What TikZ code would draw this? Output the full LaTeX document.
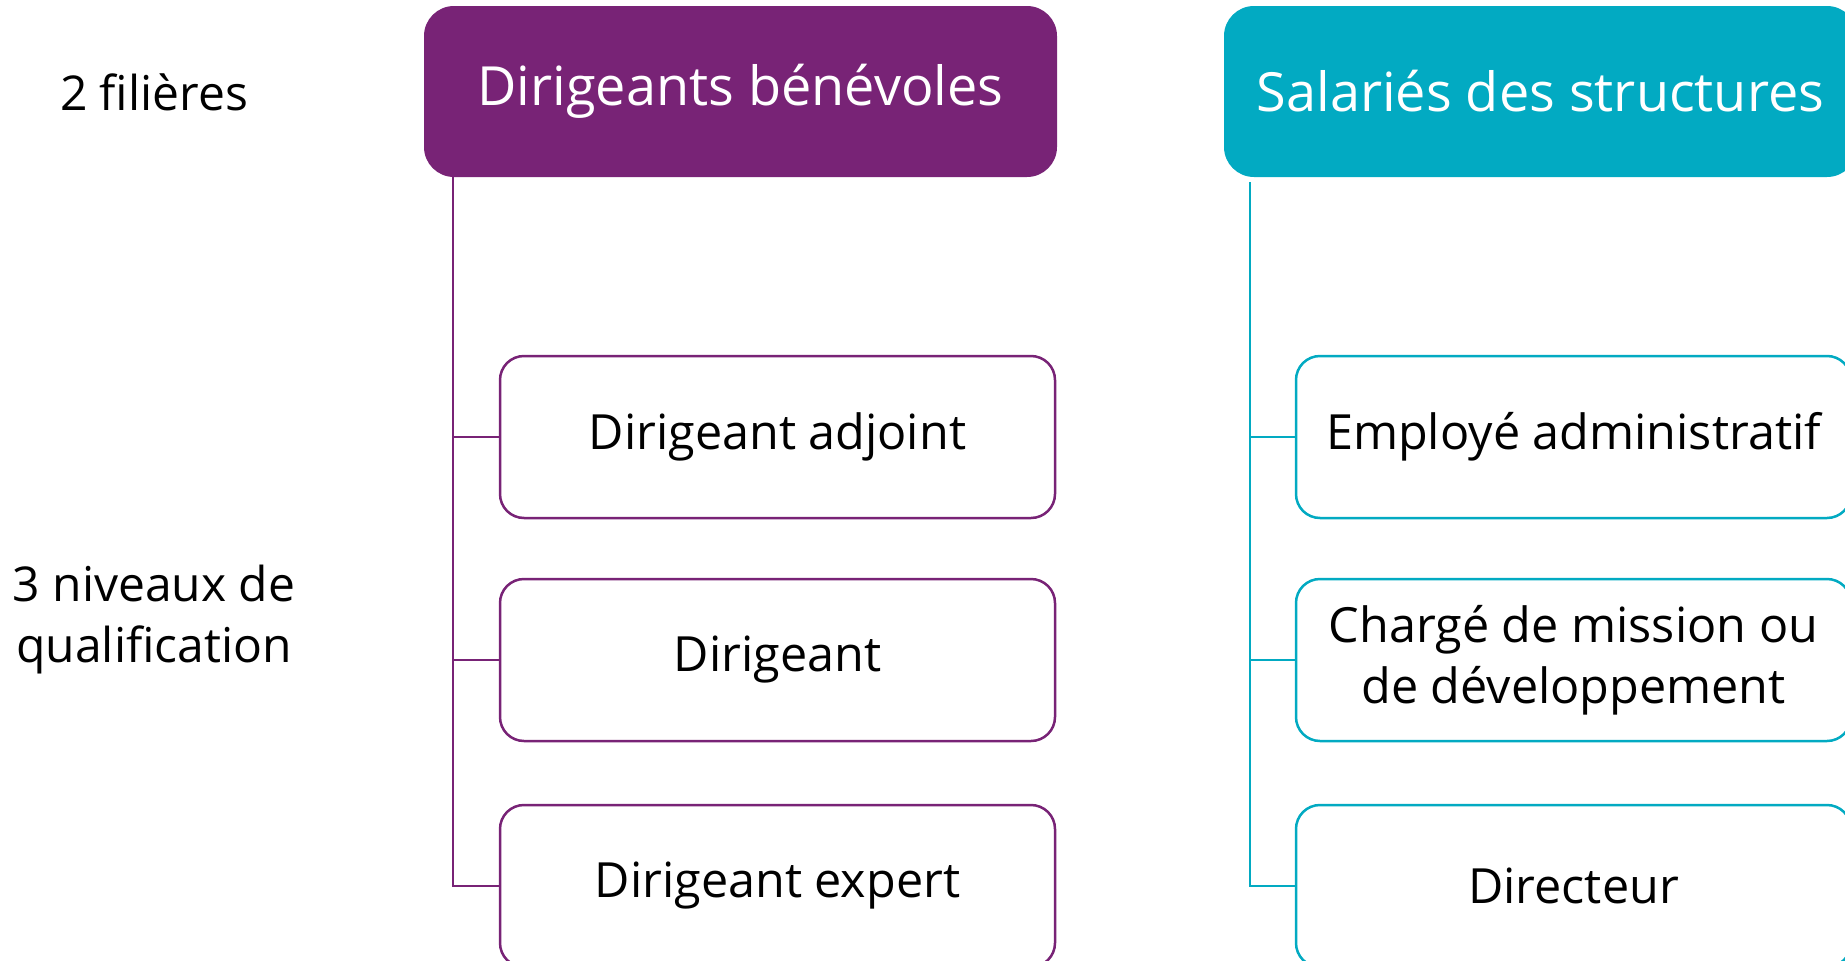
\documentclass[tikz,border=0pt]{standalone}
\usepackage{fontspec}
\setmainfont{Open Sans}
\definecolor{dpurple}{HTML}{782376}
\definecolor{dteal}{HTML}{02AAC2}
\begin{document}
\begin{tikzpicture}[x=1pt,y=-1pt,
  hdr/.style={rounded corners=30pt, minimum width=633pt, minimum height=171pt, inner sep=0pt, text=white, font=\fontsize{54}{64}\selectfont},
  child/.style={rounded corners=24pt, draw, line width=2.5pt, fill=white, minimum width=555pt, minimum height=162pt, inner sep=0pt, align=center, font=\fontsize{48.5}{61}\selectfont},
  conn/.style={line width=1.5pt},
  lbl/.style={align=center, font=\fontsize{48}{61}\selectfont}]
\useasboundingbox (0,0) rectangle (1845,961);
\node[lbl] (l1) at (154,92) {2 filières};
\node[lbl] (l2) at (154,620) {3 niveaux de\\qualification};
\node[hdr, fill=dpurple] (hp) at (740.5,91.5) {Dirigeants bénévoles};
\node[hdr, fill=dteal] (ht) at (1540.5,91.5) {Salariés des structures};
\node[child, draw=dpurple] (p1) at (777.5,437) {Dirigeant adjoint};
\node[child, draw=dpurple] (p2) at (777.5,660) {Dirigeant};
\node[child, draw=dpurple] (p3) at (777.5,886) {Dirigeant expert};
\node[child, draw=dteal] (t1) at (1573.5,437) {Employé administratif};
\node[child, draw=dteal] (t2) at (1573.5,660) {Chargé de mission ou\\de développement};
\node[child, draw=dteal] (t3) at (1573.5,886) {Directeur};
\coordinate (pv) at (453,177);
\coordinate (tv) at (1250,182);
\draw[conn, dpurple] (pv) |- (p3.west);
\draw[conn, dpurple] (pv |- p1.west) -- (p1.west);
\draw[conn, dpurple] (pv |- p2.west) -- (p2.west);
\draw[conn, dteal] (tv) |- (t3.west);
\draw[conn, dteal] (tv |- t1.west) -- (t1.west);
\draw[conn, dteal] (tv |- t2.west) -- (t2.west);
\end{tikzpicture}
\end{document}
